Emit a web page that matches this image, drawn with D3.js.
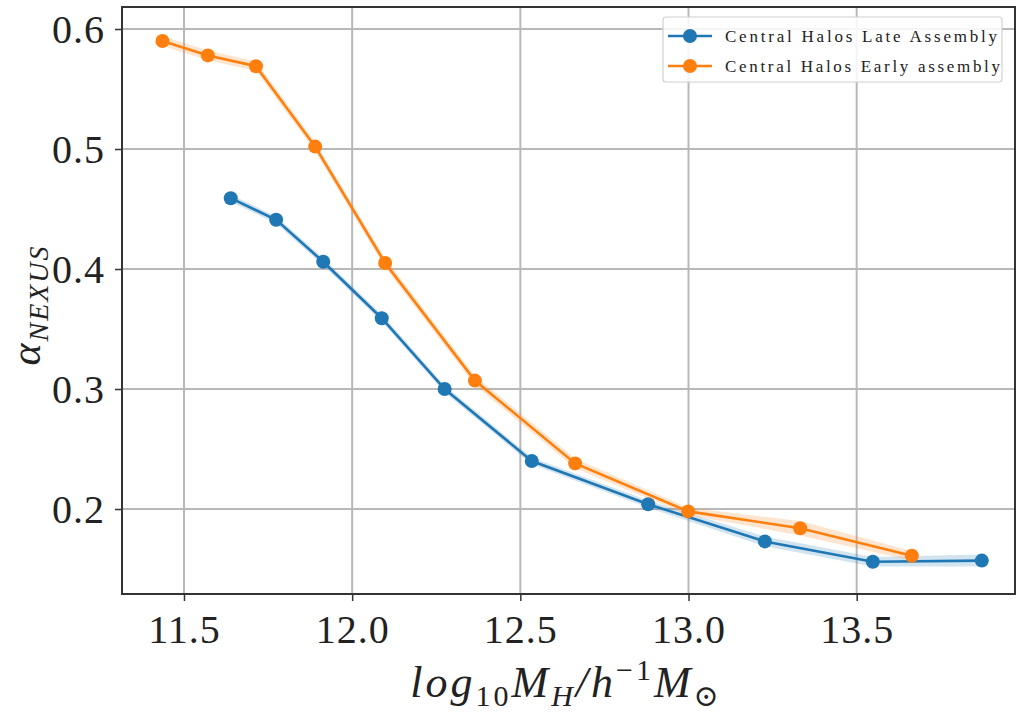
<!DOCTYPE html>
<html>
<head>
<meta charset="utf-8">
<script src="https://cdn.jsdelivr.net/npm/d3@7"></script>
<style>
  html, body { margin: 0; padding: 0; background: #fff; }
  svg text { font-family: "Liberation Serif", "DejaVu Serif", serif; fill: #222; }
</style>
</head>
<body>
<svg id="chart" width="1017" height="715"></svg>
<script>
// ---- data ----
const lateMass  = [11.639, 11.774, 11.914, 12.088, 12.275, 12.534, 12.880, 13.227, 13.548, 13.872];
const lateAlpha = [0.459, 0.441, 0.406, 0.359, 0.300, 0.240, 0.204, 0.173, 0.156, 0.157];
const lateErr   = [0.003, 0.003, 0.003, 0.003, 0.003, 0.003, 0.003, 0.004, 0.004, 0.005];

const earlyMass  = [11.436, 11.571, 11.714, 11.890, 12.098, 12.365, 12.663, 12.999, 13.332, 13.664];
const earlyAlpha = [0.590, 0.578, 0.569, 0.502, 0.405, 0.307, 0.238, 0.198, 0.184, 0.161];
const earlyErr   = [0.004, 0.004, 0.004, 0.004, 0.004, 0.004, 0.004, 0.003, 0.006, 0.004];

const xTicks = [11.5, 12.0, 12.5, 13.0, 13.5];
const yTicks = [0.2, 0.3, 0.4, 0.5, 0.6];
const seriesNames = ["Central Halos Late Assembly", "Central Halos Early assembly"];
const seriesColors = ["#1f77b4", "#ff7f0e"];

// ---- layout ----
const svg = d3.select("#chart");
const L = 122, R = 1015, T = 7, B = 594;
const x = d3.scaleLinear().domain([11.3157, 13.9707]).range([L, R]);
const y = d3.scaleLinear().domain([0.12917, 0.61833]).range([B, T]);

// grid
const grid = svg.append("g");
grid.selectAll("line.gx").data(xTicks).join("line")
  .attr("x1", d => x(d)).attr("x2", d => x(d)).attr("y1", T).attr("y2", B)
  .attr("stroke", "#b8b8b8").attr("stroke-width", 2);
grid.selectAll("line.gy").data(yTicks).join("line")
  .attr("y1", d => y(d)).attr("y2", d => y(d)).attr("x1", L).attr("x2", R)
  .attr("stroke", "#b8b8b8").attr("stroke-width", 2);

// series
const series = [
  {name: seriesNames[0], color: seriesColors[0], xs: lateMass, ys: lateAlpha, es: lateErr},
  {name: seriesNames[1], color: seriesColors[1], xs: earlyMass, ys: earlyAlpha, es: earlyErr}
];
const plot = svg.append("g");
series.forEach(s => {
  const pts = s.xs.map((v, i) => ({x: v, y: s.ys[i], e: s.es[i]}));
  plot.append("path").datum(pts)
    .attr("d", d3.area().x(d => x(d.x)).y0(d => y(d.y - d.e)).y1(d => y(d.y + d.e)))
    .attr("fill", s.color).attr("fill-opacity", 0.2);
  plot.append("path").datum(pts)
    .attr("d", d3.line().x(d => x(d.x)).y(d => y(d.y)))
    .attr("fill", "none").attr("stroke", s.color).attr("stroke-width", 2.6);
  plot.selectAll(null).data(pts).join("circle")
    .attr("cx", d => x(d.x)).attr("cy", d => y(d.y)).attr("r", 7)
    .attr("fill", s.color);
});

// axes
const xAxis = d3.axisBottom(x).tickValues(xTicks).tickFormat(d3.format(".1f")).tickSize(7).tickPadding(14);
const yAxis = d3.axisLeft(y).tickValues(yTicks).tickFormat(d3.format(".1f")).tickSize(7).tickPadding(10);
const gx = svg.append("g").attr("transform", `translate(0,${B})`).call(xAxis);
const gy = svg.append("g").attr("transform", `translate(${L},0)`).call(yAxis);
[gx, gy].forEach(g => {
  g.select(".domain").remove();
  g.selectAll(".tick line").attr("stroke", "#333").attr("stroke-width", 1.5);
  g.selectAll(".tick text").attr("font-size", 40).attr("font-family", "Liberation Serif, serif")
    .attr("fill", "#222").attr("letter-spacing", 1);
});
gy.selectAll(".tick text").attr("dy", "0.33em");

// spines
svg.append("rect").attr("x", L).attr("y", T).attr("width", R - L).attr("height", B - T)
  .attr("fill", "none").attr("stroke", "#333").attr("stroke-width", 2);

// legend
const legendLengths = [272, 275];
const lg = svg.append("g");
lg.append("rect").attr("x", 663).attr("y", 17).attr("width", 339).attr("height", 65)
  .attr("rx", 3).attr("fill", "#fff").attr("fill-opacity", 0.85)
  .attr("stroke", "#d0d0d0").attr("stroke-width", 1.2);
series.forEach((s, i) => {
  const cy = 36 + i * 30;
  lg.append("line").attr("x1", 668).attr("x2", 712).attr("y1", cy).attr("y2", cy)
    .attr("stroke", s.color).attr("stroke-width", 2.6);
  lg.append("circle").attr("cx", 690).attr("cy", cy).attr("r", 7).attr("fill", s.color);
  lg.append("text").attr("x", 725).attr("y", cy).attr("dy", "0.35em")
    .attr("font-size", 17).attr("textLength", legendLengths[i]).attr("lengthAdjust", "spacing")
    .attr("fill", "#333").text(s.name);
});

// axis labels
const xl = svg.append("text").attr("x", 566).attr("y", 697).attr("text-anchor", "middle")
  .attr("font-size", 44).attr("font-style", "italic").attr("letter-spacing", 3);
xl.append("tspan").text("log");
xl.append("tspan").attr("font-size", 30).attr("font-style", "normal").attr("dy", 9).text("10");
xl.append("tspan").attr("dy", -9).text("M");
xl.append("tspan").attr("font-size", 30).attr("dy", 9).text("H");
xl.append("tspan").attr("dy", -9).text("/h");
xl.append("tspan").attr("font-size", 30).attr("font-style", "normal").attr("dy", -17).text("−1");
xl.append("tspan").attr("dy", 17).text("M");
xl.append("tspan").attr("font-size", 30).attr("font-style", "normal").attr("dy", 9).text("⊙");

const yl = svg.append("text").attr("transform", "translate(40,305) rotate(-90)")
  .attr("text-anchor", "middle").attr("font-size", 42).attr("font-style", "italic").attr("letter-spacing", 2);
yl.append("tspan").text("α");
yl.append("tspan").attr("font-size", 28).attr("dy", 8).text("NEXUS");
</script>
</body>
</html>
